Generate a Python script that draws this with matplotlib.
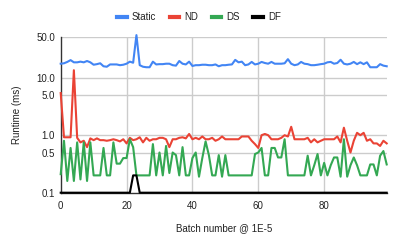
import matplotlib
matplotlib.use("Agg")
import matplotlib.pyplot as plt
from matplotlib.ticker import FixedLocator, FixedFormatter, NullLocator

batch = list(range(100))

static = [17.5, 17.8, 18.8, 20.2, 18.5, 18.5, 19, 18.5, 19.5, 18.5,
          16.8, 17.2, 17.8, 15.8, 15.5, 17, 17, 17, 16.5, 16.8,
          17.5, 19, 18.2, 55, 16.5, 15.5, 15.2, 15.2, 19, 17,
          17.2, 17.2, 17.5, 17.5, 16.5, 16.2, 19.5, 17.5, 17, 19,
          16, 16.5, 16.5, 16.8, 16.8, 16.5, 16.5, 17, 15.8, 16.5,
          16.5, 16.8, 17, 20.4, 18.5, 19, 16.5, 17, 18.8, 17,
          17.5, 18.8, 18, 17.5, 18.8, 17.5, 17.5, 17.5, 17.8, 21,
          17.5, 16.5, 17, 18.8, 17.5, 17.2, 16.5, 16.5, 16.8, 17.2,
          17.5, 18.5, 18.8, 17.5, 18, 20.5, 17.5, 17, 17.5, 18.8,
          17.2, 18.5, 17.2, 18.5, 15.2, 15.2, 15.2, 17.2, 16.2, 15.8]

nd = [5.4, 0.92, 0.92, 0.92, 13.5, 0.9, 0.75, 0.8, 0.62, 0.88,
      0.82, 0.88, 0.82, 0.82, 0.8, 0.82, 0.85, 0.82, 0.78, 0.85,
      0.72, 0.9, 0.82, 0.85, 0.92, 0.75, 0.9, 0.8, 0.85, 0.85,
      0.9, 0.9, 0.85, 0.62, 0.85, 0.85, 0.9, 0.92, 0.88, 1.05,
      0.85, 0.9, 0.85, 0.95, 0.85, 0.85, 0.9, 0.8, 0.85, 0.95,
      0.85, 0.85, 0.85, 0.85, 0.85, 0.95, 0.95, 0.95, 0.8, 0.7,
      0.6, 1.0, 1.05, 1.0, 0.85, 0.85, 0.85, 0.9, 1.0, 0.95,
      1.4, 0.85, 0.85, 0.85, 0.85, 0.9, 0.75, 0.85, 0.75, 0.8,
      0.85, 0.85, 0.85, 0.85, 0.95, 0.75, 1.35, 0.8, 0.5, 0.8,
      1.1, 1.0, 1.1, 0.8, 0.85, 0.72, 0.72, 0.65, 0.8, 0.72]

ds = [0.21, 0.8, 0.16, 0.6, 0.16, 0.75, 0.17, 0.75, 0.16, 0.75,
      0.2, 0.2, 0.2, 0.6, 0.2, 0.2, 0.75, 0.32, 0.32, 0.4,
      0.4, 0.85, 0.62, 0.2, 0.2, 0.2, 0.2, 0.2, 0.7, 0.2,
      0.5, 0.2, 0.65, 0.22, 0.5, 0.45, 0.2, 0.62, 0.2, 0.2,
      0.4, 0.5, 0.19, 0.4, 0.78, 0.45, 0.2, 0.2, 0.45, 0.19,
      0.45, 0.2, 0.2, 0.2, 0.2, 0.2, 0.2, 0.2, 0.2, 0.47,
      0.5, 0.6, 0.2, 0.2, 0.6, 0.6, 0.41, 0.41, 0.85, 0.2,
      0.2, 0.2, 0.2, 0.2, 0.2, 0.44, 0.2, 0.3, 0.47, 0.2,
      0.33, 0.2, 0.3, 0.41, 0.41, 0.19, 0.85, 0.19, 0.3, 0.41,
      0.3, 0.2, 0.2, 0.2, 0.31, 0.31, 0.2, 0.44, 0.53, 0.31]

df = [0.1, 0.1, 0.1, 0.1, 0.1, 0.1, 0.1, 0.1, 0.1, 0.1,
      0.1, 0.1, 0.1, 0.1, 0.1, 0.1, 0.1, 0.1, 0.1, 0.1,
      0.1, 0.1, 0.2, 0.2, 0.1, 0.1, 0.1, 0.1, 0.1, 0.1,
      0.1, 0.1, 0.1, 0.1, 0.1, 0.1, 0.1, 0.1, 0.1, 0.1,
      0.1, 0.1, 0.1, 0.1, 0.1, 0.1, 0.1, 0.1, 0.1, 0.1,
      0.1, 0.1, 0.1, 0.1, 0.1, 0.1, 0.1, 0.1, 0.1, 0.1,
      0.1, 0.1, 0.1, 0.1, 0.1, 0.1, 0.1, 0.1, 0.1, 0.1,
      0.1, 0.1, 0.1, 0.1, 0.1, 0.1, 0.1, 0.1, 0.1, 0.1,
      0.1, 0.1, 0.1, 0.1, 0.1, 0.1, 0.1, 0.1, 0.1, 0.1,
      0.1, 0.1, 0.1, 0.1, 0.1, 0.1, 0.1, 0.1, 0.1, 0.1]

series_names = ["Static", "ND", "DS", "DF"]
series_colors = ["#4285F4", "#EA4335", "#34A853", "#000000"]
y_ticks = [0.1, 0.5, 1.0, 5.0, 10.0, 50.0]
y_tick_labels = ["0.1", "0.5", "1.0", "5.0", "10.0", "50.0"]
x_ticks = [0, 20, 40, 60, 80]

plt.rcParams['font.family'] = ['Liberation Sans', 'DejaVu Sans']

fig = plt.figure(figsize=(3.99, 2.46), dpi=100)
ax = fig.add_axes([60.7 / 399, 1 - 192.7 / 246, (386.7 - 60.7) / 399, (192.7 - 37) / 246])

ax.set_yscale('log')
ax.set_ylim(0.1, 51)
ax.set_xlim(0, 99)

lines = []
for vals, name, col in zip([static, nd, ds, df], series_names, series_colors):
    ln, = ax.plot(batch, vals, color=col, lw=1.5, label=name, clip_on=False,
                  solid_joinstyle='round', zorder=3)
    lines.append(ln)

ax.yaxis.set_major_locator(FixedLocator(y_ticks))
ax.yaxis.set_major_formatter(FixedFormatter(y_tick_labels))
ax.yaxis.set_minor_locator(NullLocator())
ax.set_xticks(x_ticks)
ax.tick_params(axis='both', length=0, labelsize=7, colors='#222222')
ax.tick_params(axis='y', pad=4)
ax.tick_params(axis='x', pad=6)

for yv in [0.5, 1.0, 5.0, 10.0, 50.0]:
    ax.axhline(yv, color='#cccccc', lw=1, zorder=1)
for xv in [20, 40, 60, 80]:
    ax.axvline(xv, color='#cccccc', lw=1, zorder=1)

for s in ['top', 'right']:
    ax.spines[s].set_visible(False)
ax.spines['left'].set_color('#333333')
ax.spines['left'].set_linewidth(1)
ax.spines['bottom'].set_color('#333333')
ax.spines['bottom'].set_linewidth(1)

fig.text(17 / 399, 1 - 115 / 246, "Runtime (ms)", rotation=90, ha='center', va='center',
         fontsize=7, color='#222222')
fig.text(223.7 / 399, 1 - 228 / 246, "Batch number @ 1E-5", ha='center', va='center',
         fontsize=7, color='#222222')

leg = fig.legend(handles=lines, labels=series_names, loc='center', bbox_to_anchor=(199 / 399, 1 - 17 / 246),
                 ncol=4, frameon=False, fontsize=7, handlelength=1.0, handletextpad=0.5,
                 columnspacing=1.4, borderpad=0)
for h in leg.legend_handles:
    h.set_linewidth(3)
for t in leg.get_texts():
    t.set_color('#222222')

fig.savefig("out.png", dpi=100)
